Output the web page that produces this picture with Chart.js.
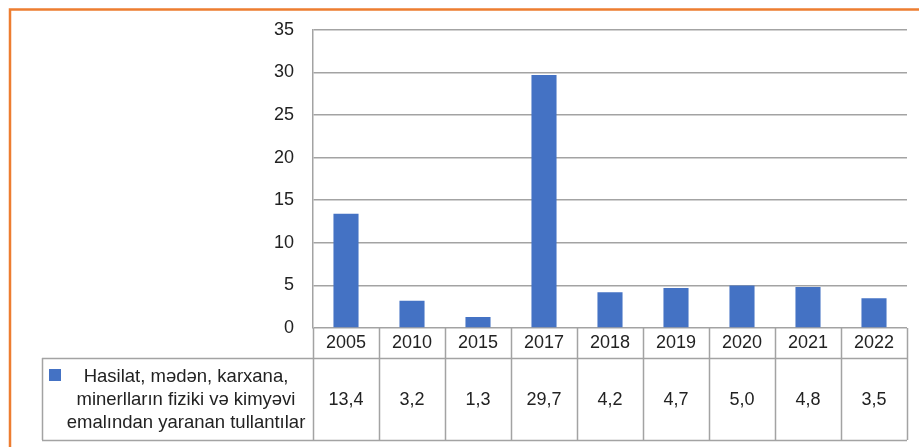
<!DOCTYPE html>
<html>
<head>
<meta charset="utf-8">
<script src="https://cdn.jsdelivr.net/npm/chart.js"></script>
<style>
  html, body { margin: 0; padding: 0; background: #fff; }
  canvas { display: block; }
</style>
</head>
<body>
<canvas id="chart"></canvas>
<script>
// data
const years = ["2005", "2010", "2015", "2017", "2018", "2019", "2020", "2021", "2022"];
const tullantilar = [13.4, 3.2, 1.3, 29.7, 4.2, 4.7, 5.0, 4.8, 3.5];
const seriesName = ["Hasilat, mədən, karxana,", "minerlların fiziki və kimyəvi", "emalından yaranan tullantılar"];
const yTicks = [0, 5, 10, 15, 20, 25, 30, 35];

const barColor = "#4472C4";
const lineColor = "#a3a3a3";
const textColor = "#222";
const fontFamily = "'Liberation Sans', Arial, sans-serif";
const fontSize = 18;

const canvas = document.querySelector("#chart");
canvas.width = 919;
canvas.height = 447;
const ctx = canvas.getContext("2d");

// vergül ilə onluq
const fmt = (v) => v.toFixed(1).replace(".", ",");

//draws frame + data table under the bars
const tablePlugin = {
  id: "dataTable",
  beforeDraw(chart) {
    const c = chart.ctx;
    c.save();
    c.fillStyle = "#fff";
    c.fillRect(0, 0, chart.width, chart.height);
    c.strokeStyle = "#ED7D31";
    c.lineWidth = 2.5;
    c.strokeRect(10, 9.5, chart.width + 20, chart.height + 20);
    c.restore();
  },
  afterDraw(chart) {
    const c = chart.ctx;
    const x = chart.scales.x;
    const area = chart.chartArea;
    const colW = x.width / years.length;
    const top = area.bottom;
    const headBottom = top + 30;
    const bottom = top + 112;
    const legendLeft = 42;

    c.save();
    c.strokeStyle = lineColor;
    c.lineWidth = 1.5;
    c.beginPath();
    // vertical separators
    for (let i = 0; i <= years.length; i++) {
      const px = Math.round(x.left + colW * i) + 0.5;
      c.moveTo(px, top);
      c.lineTo(px, bottom);
    }
    c.moveTo(legendLeft + 0.5, headBottom);
    c.lineTo(legendLeft + 0.5, bottom);
    c.moveTo(legendLeft, Math.round(headBottom) + 0.5);
    c.lineTo(x.right, Math.round(headBottom) + 0.5);
    c.moveTo(legendLeft, Math.round(bottom) + 0.5);
    c.lineTo(x.right, Math.round(bottom) + 0.5);
    c.stroke();

    c.fillStyle = textColor;
    c.font = fontSize + "px " + fontFamily;
    c.textAlign = "center";
    c.textBaseline = "middle";
    years.forEach((y, i) => {
      const cx = x.getPixelForValue(i);
      c.fillText(y, cx, top + 15);
      c.fillText(fmt(tullantilar[i]), cx, headBottom + 42);
    });

    // legend cell
    c.fillStyle = barColor;
    c.fillRect(49, headBottom + 11, 12, 12);
    c.fillStyle = textColor;
    c.font = "18.5px " + fontFamily;
    seriesName.forEach((line, i) => {
      c.fillText(line, 186, headBottom + 19 + i * 23);
    });
    c.restore();
  },
};

let mChart = new Chart(ctx, {
  type: "bar",
  data: {
    labels: years,
    datasets: [
      {
        label: seriesName.join(" "),
        data: tullantilar,
        backgroundColor: barColor,
        borderWidth: 0,
        barPercentage: 0.38,
        categoryPercentage: 1,
      },
    ],
  },
  options: {
    responsive: false,
    animation: false,
    layout: {
      padding: { left: 0, top: 28, right: 12, bottom: 119 },
    },
    plugins: {
      legend: { display: false },
      tooltip: { enabled: false },
    },
    scales: {
      x: {
        display: false,
      },
      y: {
        min: 0,
        max: 35,
        afterFit: (scale) => {
          scale.width = 313;
        },
        afterBuildTicks: (scale) => {
          scale.ticks = yTicks.map((v) => ({ value: v }));
        },
        grid: {
          color: lineColor,
          lineWidth: 1.5,
          drawTicks: false,
        },
        border: {
          color: lineColor,
          width: 1.5,
        },
        ticks: {
          padding: 19,
          color: textColor,
          font: { family: fontFamily, size: fontSize },
          callback: (value) => value.toFixed(0),
        },
      },
    },
  },
  plugins: [tablePlugin],
});
</script>
</body>
</html>
